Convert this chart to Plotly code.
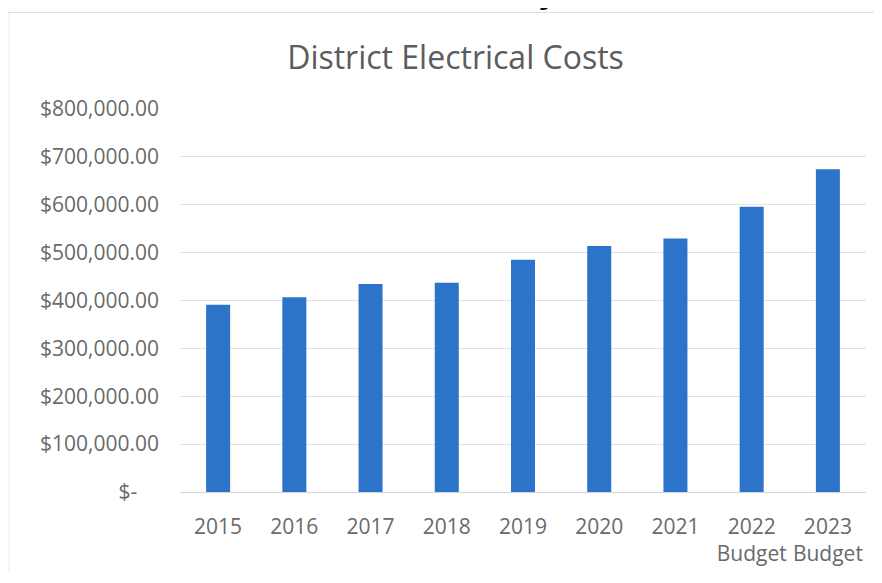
import plotly.graph_objects as go

categories = ["2015", "2016", "2017", "2018", "2019", "2020", "2021", "2022<br>Budget", "2023<br>Budget"]
costs = [391000, 407000, 434500, 437000, 485000, 514000, 529500, 596000, 674000]
y_tick_values = [0, 100000, 200000, 300000, 400000, 500000, 600000, 700000, 800000]
y_tick_labels = ["$-\u00a0\u00a0\u00a0\u00a0", "$100,000.00", "$200,000.00", "$300,000.00", "$400,000.00",
                 "$500,000.00", "$600,000.00", "$700,000.00", "$800,000.00"]

FONT = "Open Sans"
TEXT_GREY = "#6a6a6a"

# page body has an 8px margin; figure is sized/positioned to compensate
W, H = 866, 567
ML, MR, MT, MB = 172, 8, 101, 81
PW = W - ML - MR
PH = H - MT - MB

fig = go.Figure()
fig.add_trace(go.Bar(
    x=categories,
    y=costs,
    marker=dict(color="#2C74C9", line=dict(width=0)),
    showlegend=False,
))

fig.update_layout(
    width=W,
    height=H,
    margin=dict(l=ML, r=MR, t=MT, b=MB),
    paper_bgcolor="white",
    plot_bgcolor="white",
    bargap=0.685,
    title=dict(
        text="District Electrical Costs",
        x=447.5 / W, xref="container", xanchor="center",
        y=1 - 50 / H, yref="container", yanchor="middle",
        font=dict(family=FONT, size=32, color="#5c5c5c"),
    ),
    font=dict(family=FONT, color=TEXT_GREY),
    xaxis=dict(
        showgrid=False,
        showline=False,
        ticks="",
        tickfont=dict(family=FONT, size=21, color=TEXT_GREY),
        ticklabelstandoff=20,
    ),
    yaxis=dict(
        range=[0, 800000],
        tickvals=y_tick_values,
        ticktext=y_tick_labels,
        showgrid=True,
        gridcolor="#e2e2e2",
        gridwidth=1,
        zeroline=True,
        zerolinecolor="#d4d4d4",
        zerolinewidth=1,
        showline=False,
        ticks="",
        tickfont=dict(family=FONT, size=21, color=TEXT_GREY),
        ticklabelstandoff=20,
    ),
    shapes=[
        dict(type="line", xref="paper", yref="paper", x0=-ML / PW, x1=(W - ML) / PW,
             y0=(PH + MT - 4) / PH, y1=(PH + MT - 4) / PH, line=dict(color="#dedede", width=1)),
        dict(type="line", xref="paper", yref="paper", x0=-(ML - 1) / PW, x1=-(ML - 1) / PW,
             y0=(PH + MT - 4) / PH, y1=-MB / PH, line=dict(color="#ececec", width=1)),
    ],
    annotations=[
        dict(text="y", xref="paper", yref="paper", x=(542 - ML) / PW, y=(PH + MT - 6) / PH,
             xanchor="center", yanchor="bottom", showarrow=False,
             font=dict(family=FONT, size=40, color="#111111")),
    ],
)

fig.write_html(
    "out.html",
    post_script="document.documentElement.style.overflow='hidden';document.body.style.overflow='hidden';",
)
